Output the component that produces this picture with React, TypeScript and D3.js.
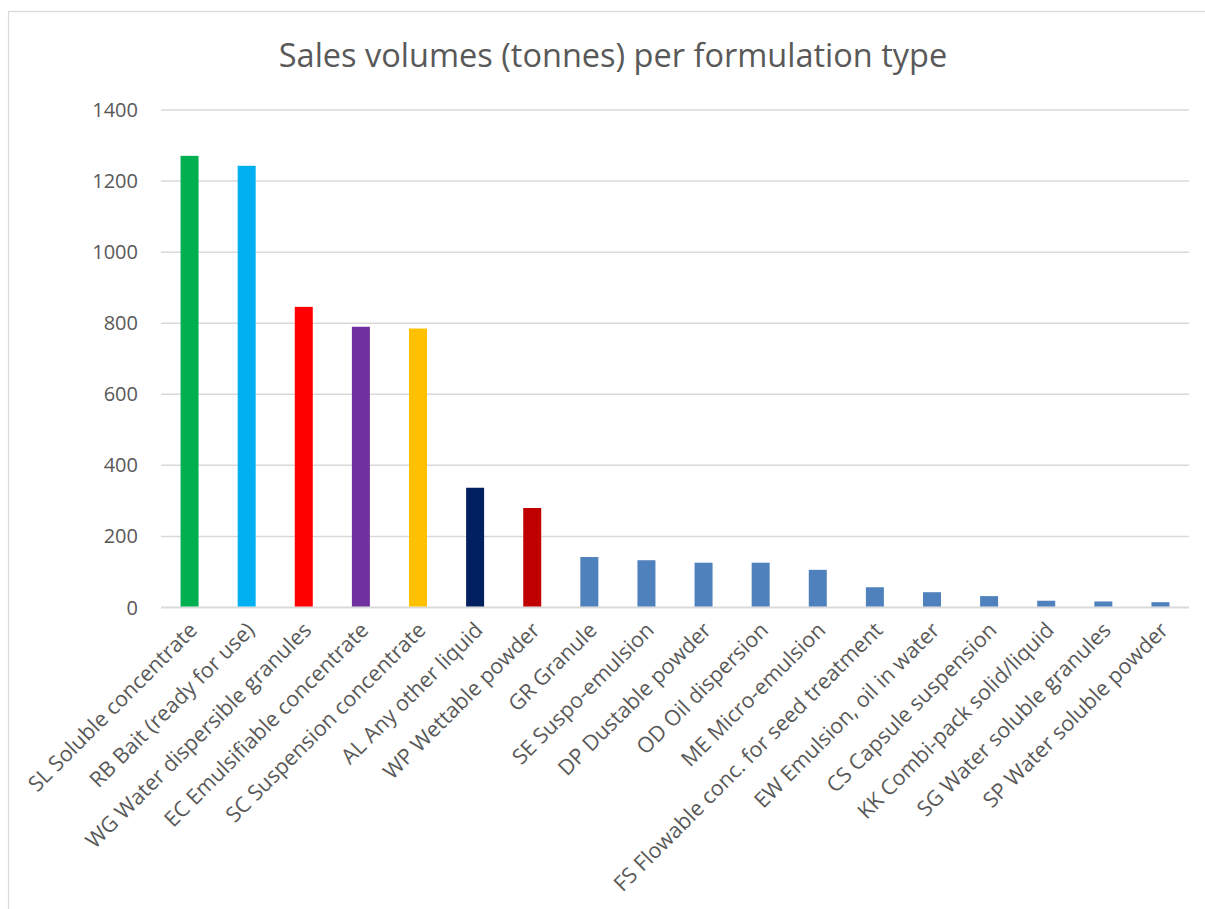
import { useEffect, useRef } from "react";
import * as d3 from "d3";

const categories = [
  "SL Soluble concentrate",
  "RB Bait (ready for use)",
  "WG Water dispersible granules",
  "EC Emulsifiable concentrate",
  "SC Suspension concentrate",
  "AL Any other liquid",
  "WP Wettable powder",
  "GR Granule",
  "SE Suspo-emulsion",
  "DP Dustable powder",
  "OD Oil dispersion",
  "ME Micro-emulsion",
  "FS Flowable conc. for seed treatment",
  "EW Emulsion, oil in water",
  "CS Capsule suspension",
  "KK Combi-pack solid/liquid",
  "SG Water soluble granules",
  "SP Water soluble powder",
];

const volumes = [
  1271, 1243, 846, 790, 785, 337, 280, 142, 133, 126, 126, 106, 57, 43, 32, 19,
  17, 15,
];

const barColors = [
  "#00B050", "#00B0F0", "#FF0000", "#7030A0", "#FFC000", "#002060", "#C00000",
  "#4F81BD", "#4F81BD", "#4F81BD", "#4F81BD", "#4F81BD", "#4F81BD", "#4F81BD",
  "#4F81BD", "#4F81BD", "#4F81BD", "#4F81BD",
];

const yTicks = [0, 200, 400, 600, 800, 1000, 1200, 1400];

const title = "Sales volumes (tonnes) per formulation type";

const W = 1205;
const H = 909;

const App = () => {
  const svgRef = useRef<SVGSVGElement | null>(null);

  useEffect(() => {
    const svg = d3.select(svgRef.current);
    svg.selectAll("*").remove();

    const left = 161;
    const right = 1189;
    const top = 110;
    const bottom = 607.5;
    const font = "'Open Sans', sans-serif";
    const textColor = "#595959";

    // chart frame
    svg
      .append("rect")
      .attr("x", 8.5)
      .attr("y", 11.5)
      .attr("width", W)
      .attr("height", H)
      .attr("fill", "#fff")
      .attr("stroke", "#d9d9d9")
      .attr("stroke-width", 1.2);

    svg
      .append("text")
      .attr("x", 613)
      .attr("y", 67)
      .attr("text-anchor", "middle")
      .attr("font-family", font)
      .attr("font-size", 32.5)
      .attr("fill", textColor)
      .text(title);

    const x = d3
      .scaleBand<string>()
      .domain(categories)
      .range([left, right])
      .paddingInner(0.685)
      .paddingOuter(0.3425);

    const y = d3.scaleLinear().domain([0, 1400]).range([bottom, top]);

    // gridlines
    svg
      .append("g")
      .selectAll("line")
      .data(yTicks)
      .enter()
      .append("line")
      .attr("x1", left)
      .attr("x2", right)
      .attr("y1", (d) => y(d))
      .attr("y2", (d) => y(d))
      .attr("stroke", "#d9d9d9")
      .attr("stroke-width", (d) => (d === 0 ? 2 : 1.5));

    // y tick labels
    svg
      .append("g")
      .selectAll("text")
      .data(yTicks)
      .enter()
      .append("text")
      .attr("x", 138)
      .attr("y", (d) => y(d))
      .attr("dy", "0.35em")
      .attr("text-anchor", "end")
      .attr("font-family", font)
      .attr("font-size", 20)
      .attr("fill", textColor)
      .text((d) => d);

    // bars
    svg
      .append("g")
      .selectAll("rect")
      .data(categories)
      .enter()
      .append("rect")
      .attr("x", (d) => x(d) || 0)
      .attr("y", (_, i) => y(volumes[i]))
      .attr("width", x.bandwidth())
      .attr("height", (_, i) => bottom - 1 - y(volumes[i]))
      .attr("fill", (_, i) => barColors[i]);

    // category labels
    svg
      .append("g")
      .selectAll("text")
      .data(categories)
      .enter()
      .append("text")
      .attr("text-anchor", "end")
      .attr("font-family", font)
      .attr("font-size", 21.5)
      .attr("fill", textColor)
      .attr(
        "transform",
        (d) => `translate(${(x(d) || 0) + x.bandwidth() / 2 + 9},${bottom + 24}) rotate(-45)`
      )
      .text((d) => d);
  }, []);

  return (
    <svg
      ref={svgRef}
      width={W}
      height={H}
      style={{ position: "absolute", left: 0, top: 0, background: "#fff" }}
    />
  );
};

export default App;
